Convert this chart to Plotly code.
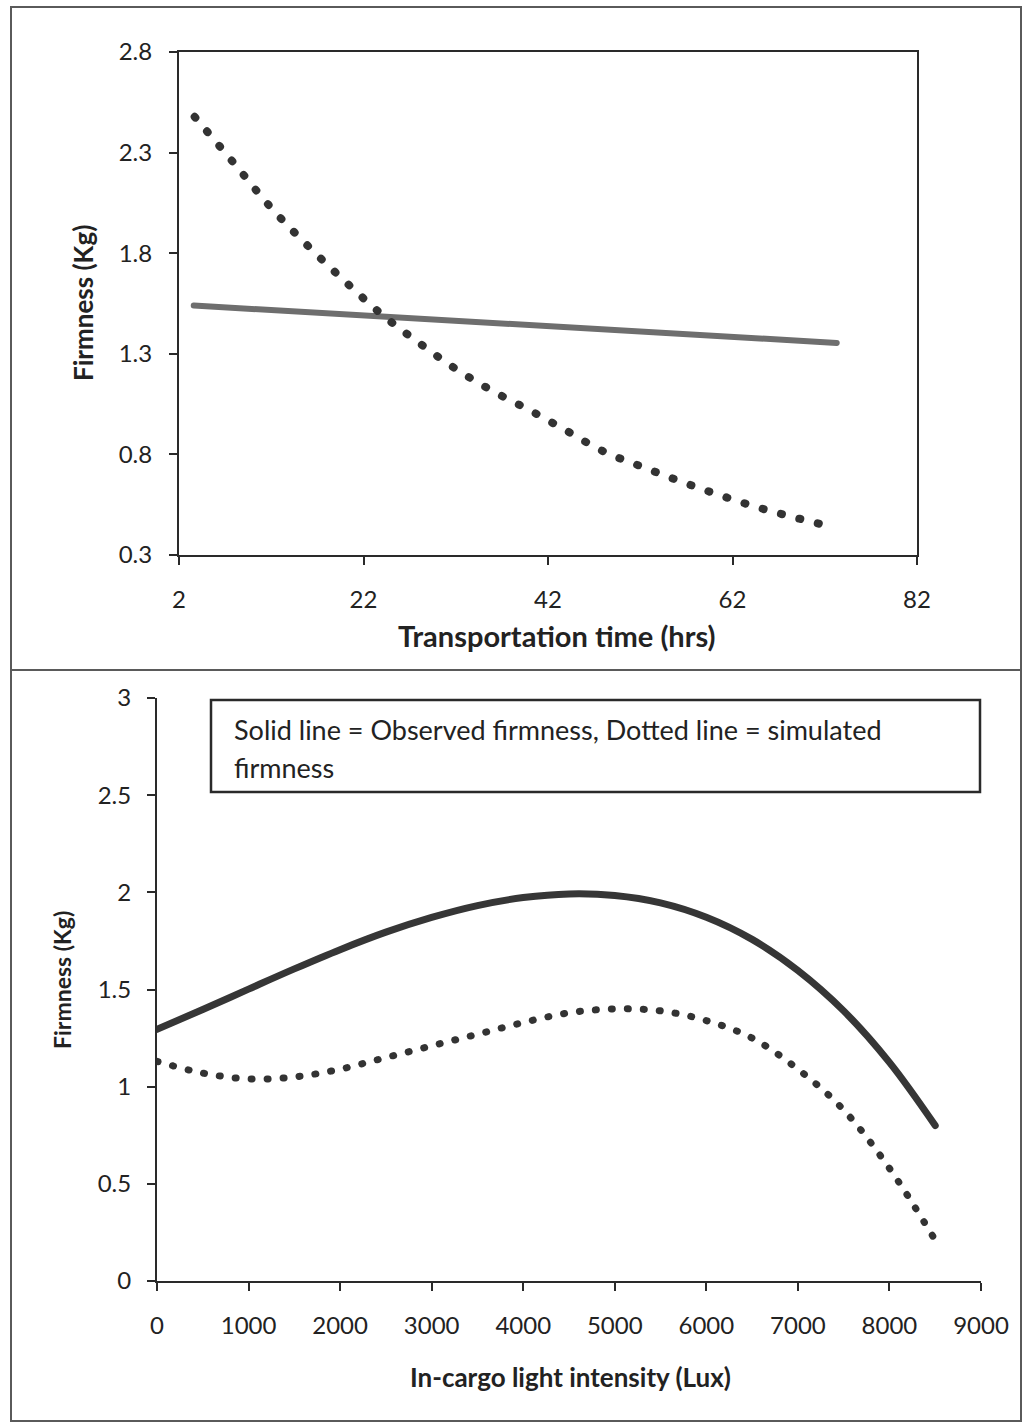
import plotly.graph_objects as go

# ---- data -------------------------------------------------------------
# Transportation time study (top panel)
transport_hours = [3.7, 8, 12, 16, 20, 24, 28, 32, 36, 40, 44, 48, 52, 56, 60, 64, 68, 72, 72.6]
simulated_firmness_time = [2.478, 2.245, 2.025, 1.835, 1.66, 1.495, 1.355, 1.225, 1.115, 1.02,
                           0.918, 0.815, 0.742, 0.672, 0.607, 0.547, 0.495, 0.448, 0.438]
observed_hours = [3.6, 73.3]
observed_firmness_time = [1.54, 1.354]

# Light intensity study (bottom panel)
light_lux = [0, 500, 1000, 1500, 2000, 2500, 3000, 3500, 4000, 4500,
             5000, 5500, 6000, 6500, 7000, 7500, 8000, 8500]
observed_firmness_light = [1.295, 1.397, 1.502, 1.606, 1.705, 1.795, 1.871, 1.932, 1.973, 1.992,
                           1.984, 1.946, 1.872, 1.758, 1.598, 1.390, 1.125, 0.800]
simulated_firmness_light = [1.13, 1.07, 1.04, 1.05, 1.09, 1.15, 1.21, 1.27, 1.33, 1.38,
                            1.40, 1.39, 1.34, 1.25, 1.09, 0.88, 0.58, 0.21]

time_ticks = [2, 22, 42, 62, 82]
time_firm_ticks = [0.3, 0.8, 1.3, 1.8, 2.3, 2.8]
lux_ticks = [0, 1000, 2000, 3000, 4000, 5000, 6000, 7000, 8000, 9000]
lux_firm_ticks = [0, 0.5, 1, 1.5, 2, 2.5, 3]

# ---- layout helpers (pixel -> paper) ---------------------------------
W, H = 1026, 1423
def px(x):
    return x / W
def py(y):
    return 1 - y / H

FONT = "Lato, 'Open Sans', sans-serif"
INK = "#222222"

fig = go.Figure()

fig.add_trace(go.Scatter(
    x=observed_hours, y=observed_firmness_time, mode="lines",
    line=dict(color="#6e6e6e", width=6), xaxis="x", yaxis="y", showlegend=False))
fig.add_trace(go.Scatter(
    x=transport_hours, y=simulated_firmness_time, mode="lines",
    line=dict(color="#333333", width=8, dash="1px,18px", shape="spline"),
    xaxis="x", yaxis="y", showlegend=False))

fig.add_trace(go.Scatter(
    x=light_lux, y=observed_firmness_light, mode="lines",
    line=dict(color="#363636", width=7, shape="spline"),
    xaxis="x2", yaxis="y2", showlegend=False))
fig.add_trace(go.Scatter(
    x=light_lux, y=simulated_firmness_light, mode="lines",
    line=dict(color="#333333", width=7, dash="1px,15px", shape="spline"),
    xaxis="x2", yaxis="y2", showlegend=False))

axis_common = dict(
    automargin=False,
    showgrid=False, zeroline=False, showline=True, linecolor="#2a2a2a", linewidth=2,
    ticks="outside", ticklen=8, tickwidth=2, tickcolor="#2a2a2a",
    tickfont=dict(family=FONT, size=24, color=INK),
)

fig.update_layout(
    width=W, height=H,
    margin=dict(l=0, r=0, t=0, b=0, autoexpand=False),
    paper_bgcolor="white", plot_bgcolor="white",
    xaxis=dict(domain=[px(179), px(917)], range=[2, 82], tickvals=time_ticks,
               mirror=True, anchor="y", ticklabelstandoff=14, **axis_common),
    yaxis=dict(domain=[py(555), py(52)], range=[0.3, 2.8], tickvals=time_firm_ticks,
               tickformat=".1f", mirror=True, anchor="x", ticklabelstandoff=12, **axis_common),
    xaxis2=dict(domain=[px(157), px(981)], range=[0, 9000], tickvals=lux_ticks,
                anchor="y2", ticklabelstandoff=14, **axis_common),
    yaxis2=dict(domain=[py(1281), py(698)], range=[0, 3], tickvals=lux_firm_ticks,
                anchor="x2", ticklabelstandoff=11, **axis_common),
)

annotations = [
    dict(text="Transportation time (hrs)", x=px(557), y=py(635), xref="paper", yref="paper",
         showarrow=False, font=dict(family=FONT, size=29, color=INK, weight="bold"),
         xanchor="center", yanchor="middle"),
    dict(text="Firmness (Kg)", x=px(83), y=py(303), xref="paper", yref="paper",
         showarrow=False, font=dict(family=FONT, size=26, color=INK, weight="bold"),
         textangle=-90, xanchor="center", yanchor="middle"),
    dict(text="In-cargo light intensity (Lux)", x=px(570), y=py(1377), xref="paper", yref="paper",
         showarrow=False, font=dict(family=FONT, size=26, color=INK, weight="bold"),
         xanchor="center", yanchor="middle"),
    dict(text="Firmness (Kg)", x=px(62), y=py(980), xref="paper", yref="paper",
         showarrow=False, font=dict(family=FONT, size=23, color=INK, weight="bold"),
         textangle=-90, xanchor="center", yanchor="middle"),
    dict(text="Solid line = Observed firmness, Dotted line = simulated", x=px(232), y=py(729),
         xref="paper", yref="paper", showarrow=False, xanchor="left", yanchor="middle",
         font=dict(family=FONT, size=27, color=INK)),
    dict(text="firmness", x=px(232), y=py(768),
         xref="paper", yref="paper", showarrow=False, xanchor="left", yanchor="middle",
         font=dict(family=FONT, size=27, color=INK)),
]
fig.update_layout(annotations=annotations)

shapes = [
    # note box in the lower panel
    dict(type="rect", xref="paper", yref="paper", x0=px(211), x1=px(980), y0=py(792), y1=py(700),
         line=dict(color="#2a2a2a", width=2.5), fillcolor="white", layer="below"),
    # outer frame around both panels and the divider between them
    dict(type="rect", xref="paper", yref="paper", x0=px(11), x1=px(1021), y0=py(1421), y1=py(7),
         line=dict(color="#5a5a5a", width=2)),
    dict(type="line", xref="paper", yref="paper", x0=px(11), x1=px(1021), y0=py(670), y1=py(670),
         line=dict(color="#5a5a5a", width=2)),
]
fig.update_layout(shapes=shapes)

# round caps turn the short dashes into dots
post = """
var gd = document.getElementById('{plot_id}');
gd.querySelectorAll('path.js-line').forEach(function(p){
    p.style.strokeLinecap = 'round';
    p.style.strokeLinejoin = 'round';
});
"""

fig.write_html("out.html", post_script=post)
